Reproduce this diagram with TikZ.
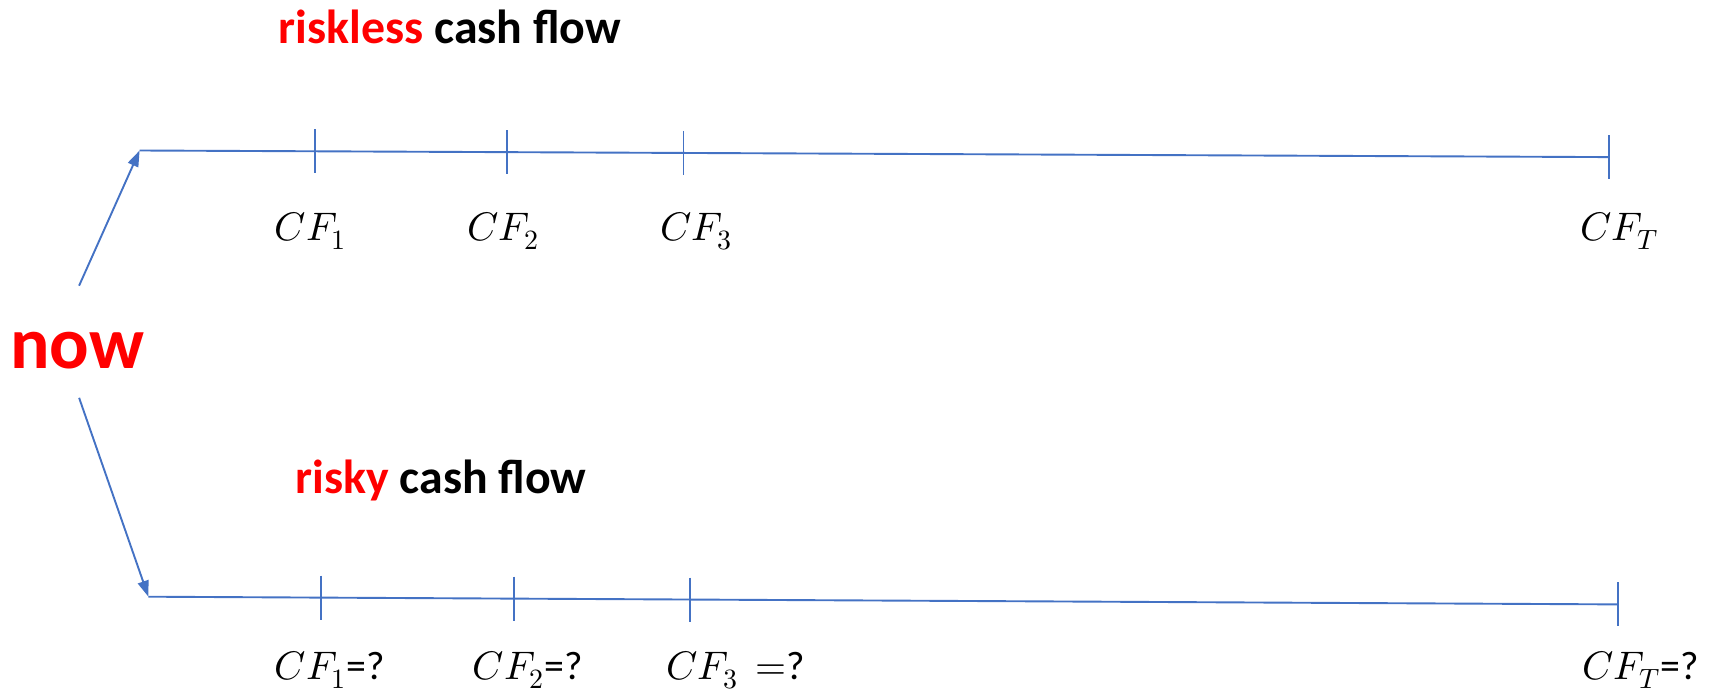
\documentclass[tikz,border=0pt]{standalone}
\usepackage{fontspec}
\usepackage{unicode-math}
\setmainfont{Carlito}
\setmathfont{Latin Modern Math}
\usetikzlibrary{arrows.meta}
\definecolor{lineblue}{RGB}{68,114,196}
\definecolor{hotred}{RGB}{255,0,0}
\begin{document}
\begin{tikzpicture}[x=1bp,y=-1bp,
  axis/.style={draw=lineblue,line width=1.9bp},
  tickmark/.style={draw=lineblue,line width=1.9bp},
  arr/.style={draw=lineblue,line width=1.9bp,-{Triangle[length=16bp,width=11bp]}},
  title/.style={font=\fontsize{48}{52}\selectfont\bfseries,anchor=base,inner sep=0},
  cf/.style={font=\fontsize{40}{44}\selectfont,anchor=base west,inner sep=0}]
\useasboundingbox (0,0) rectangle (1723,696);
% titles
\node[title] (t1) at (450,44) {\textcolor{hotred}{riskless} cash flow};
\node[title] (t2) at (441,493) {\textcolor{hotred}{risky} cash flow};
\node[font=\fontsize{74}{80}\selectfont\bfseries,text=hotred,anchor=base,inner sep=0] (now) at (77,368) {now};
% top line
\coordinate (a0) at (139.6,150.5);
\coordinate (a9) at (1608.8,157.1);
\coordinate (n1) at (79.1,285.7);
\draw[arr] (n1) -- (a0);
\draw[axis] (a0) -- (a9);
\foreach \x/\y/\n in {315.4/151.3/1,506.6/152.1/2,683.5/152.9/3,1608.8/157.1/4}{
  \coordinate (tau\n) at (\x,\y-22);
  \coordinate (tad\n) at (\x,\y+22);
  \draw[tickmark] (tau\n) -- (tad\n);
}
\node[cf] (c1) at (274.7,240) {$CF_1$};
\node[cf] (c2) at (467,240) {$CF_2$};
\node[cf] (c3) at (660,240) {$CF_3$};
\node[cf] (c4) at (1580,240) {$CF_T$};
% bottom line
\coordinate (b0) at (148.4,596.7);
\coordinate (b9) at (1617.6,604.4);
\coordinate (n2) at (79.1,397.8);
\draw[arr] (n2) -- (b0);
\draw[axis] (b0) -- (b9);
\foreach \x/\y/\n in {320.9/597.6/1,514.3/598.6/2,690.1/599.5/3,1617.6/604.4/4}{
  \coordinate (tbu\n) at (\x,\y-22);
  \coordinate (tbd\n) at (\x,\y+22);
  \draw[tickmark] (tbu\n) -- (tbd\n);
}
\node[cf] (d1) at (274.7,679) {$CF_1$=?};
\node[cf] (d2) at (472.5,679) {$CF_2$=?};
\node[cf] (d3) at (666,679) {$CF_3\,=$?};
\node[cf] (d4) at (1582,679) {$CF_T$=?};
\end{tikzpicture}
\end{document}
